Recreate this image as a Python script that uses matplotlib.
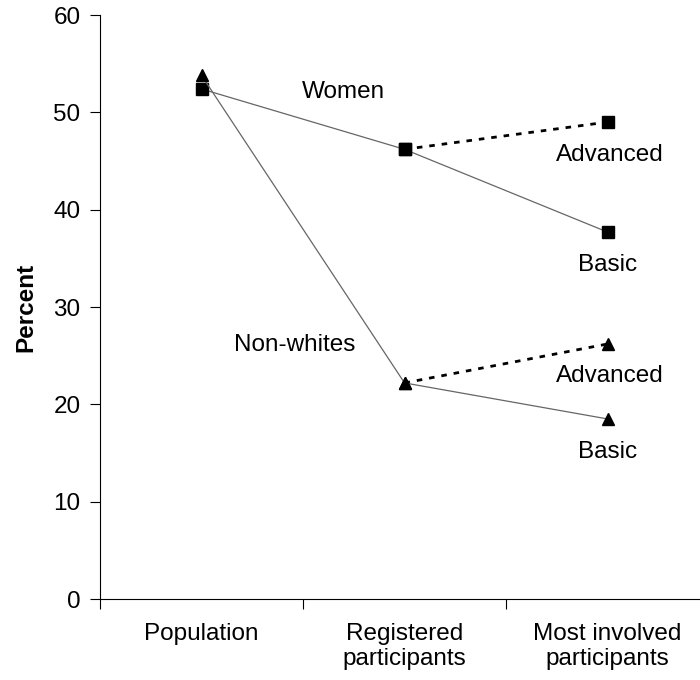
import matplotlib.pyplot as plt
import numpy as np

plt.rcParams['font.family'] = ['Liberation Sans', 'DejaVu Sans']

categories = ['Population', 'Registered\nparticipants', 'Most involved\nparticipants']

# women: population, registered, most involved (basic / advanced)
women_basic = [52.4, 46.2, 37.7]
women_advanced = [46.2, 49.0]
# non-whites
nonwhite_basic = [53.8, 22.2, 18.5]
nonwhite_advanced = [22.2, 26.2]

x = np.arange(len(categories))

fig = plt.figure(figsize=(7, 6.8), dpi=100)
ax = fig.add_axes([100/700, 81/680, 609/700, 584/680])

# basic path: thin grey solid
ax.plot(x, women_basic, color='#666666', lw=0.9, marker='s', ms=8,
        mfc='black', mec='black', zorder=3)
ax.plot(x, nonwhite_basic, color='#666666', lw=0.9, marker='^', ms=8,
        mfc='black', mec='black', zorder=3)
# advanced branch: dotted black
ax.plot(x[1:], women_advanced, color='black', lw=2, ls=(0, (2, 2.5)),
        marker='s', ms=8, mfc='black', mec='black', zorder=2)
ax.plot(x[1:], nonwhite_advanced, color='black', lw=2, ls=(0, (2, 2.5)),
        marker='^', ms=8, mfc='black', mec='black', zorder=2)

fs = 17.5
ax.text(0.70, 52.1, 'Women', fontsize=fs, ha='center', va='center')
ax.text(0.46, 26.1, 'Non-whites', fontsize=fs, ha='center', va='center')
ax.text(2.01, 45.6, 'Advanced', fontsize=fs, ha='center', va='center')
ax.text(2.0, 34.3, 'Basic', fontsize=fs, ha='center', va='center')
ax.text(2.01, 22.9, 'Advanced', fontsize=fs, ha='center', va='center')
ax.text(2.0, 15.1, 'Basic', fontsize=fs, ha='center', va='center')

ax.set_xlim(-0.5, 2.5)
ax.set_ylim(0, 60)
ax.set_yticks(range(0, 61, 10))
ax.set_xticks([-0.5, 0.5, 1.5, 2.5])
ax.set_xticklabels([])
ax.set_xticks(x, minor=True)
ax.set_xticklabels(categories, minor=True, fontsize=fs)
ax.tick_params(axis='x', which='minor', length=0, pad=17)
ax.tick_params(axis='x', which='major', length=7, width=0.8)
ax.tick_params(axis='y', length=7, width=0.8, labelsize=fs, pad=7)
ax.set_ylabel('Percent', fontsize=fs, fontweight='bold', labelpad=11.5)

ax.spines['right'].set_visible(False)
ax.spines['top'].set_visible(False)
for s in ['left', 'bottom']:
    ax.spines[s].set_linewidth(0.8)

fig.savefig('out.png', dpi=100)
